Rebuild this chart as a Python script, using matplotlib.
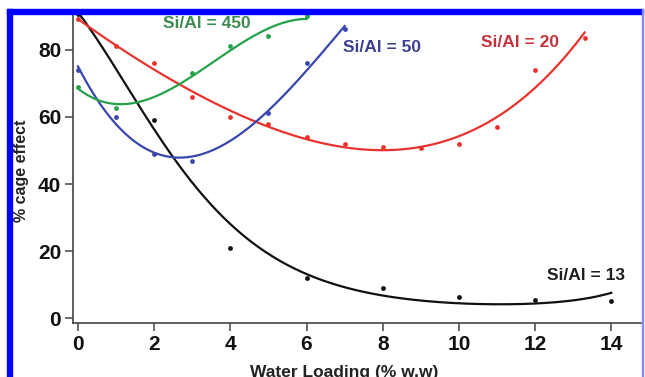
import numpy as np
import matplotlib
matplotlib.use("Agg")
import matplotlib.pyplot as plt
from matplotlib.patches import Rectangle

plt.rcParams['font.family'] = ['Liberation Sans', 'DejaVu Sans']
plt.rcParams['font.weight'] = 'bold'

# % cage effect vs water loading, one series per Si/Al ratio
x13 = [0, 2, 4, 6, 8, 10, 12, 14]
y13 = [90.5, 59, 21, 12, 9, 6.5, 5.5, 5.3]

x20 = [0, 1, 2, 3, 4, 5, 6, 7, 8, 9, 10, 11, 12, 13.3]
y20 = [89, 81, 76, 66, 60, 58, 54, 52, 51, 50.7, 52, 57, 74, 83.5]

x50 = [0, 1, 2, 3, 5, 6, 7]
y50 = [74, 60, 49, 47, 61, 76, 86]

x450 = [0, 1, 3, 4, 5, 6]
y450 = [69, 62.5, 73, 81, 84, 90]

labels = ["Si/Al = 13", "Si/Al = 20", "Si/Al = 50", "Si/Al = 450"]
xticks = [0, 2, 4, 6, 8, 10, 12, 14]
yticks = [0, 20, 40, 60, 80]


def trend(xs, ys, deg, log=False):
    # least-squares polynomial trend line, optionally fitted on log(y)
    xs = np.asarray(xs, float)
    ys = np.asarray(ys, float)
    xf = np.linspace(xs[0], xs[-1], 300)
    if log:
        c = np.polyfit(xs, np.log(ys), deg, w=ys)
        return xf, np.exp(np.polyval(c, xf))
    return xf, np.polyval(np.polyfit(xs, ys, deg), xf)


series = [
    (x13, y13, 3, True, "#111111", "#1e1e1e", (13.33, 12.9)),
    (x20, y20, 4, False, "#e8332e", "#c8323c", (11.6, 82.2)),
    (x50, y50, 3, False, "#3847ad", "#3c4090", (7.98, 80.6)),
    (x450, y450, 3, False, "#25a24a", "#3d8c52", (3.39, 87.9)),
]

fig = plt.figure(figsize=(6.45, 3.77), dpi=100)
ax = fig.add_axes([73 / 645, 1 - 323 / 377, 568 / 645, 310 / 377])

for (xs, ys, deg, lg, lc, tc, pos), lab in zip(series, labels):
    xf, yf = trend(xs, ys, deg, lg)
    ax.plot(xf, yf, color=lc, lw=1.6)
    ax.scatter(xs, ys, s=12, color=lc, zorder=3, clip_on=False, linewidths=0)
    ax.text(pos[0], pos[1], lab, color=tc, fontsize=12.5, fontweight='bold',
            ha='center', va='center')

ax.set_xlim(-0.13, 14.78)
ax.set_ylim(-1.35, 90.9)
ax.set_xticks(xticks)
ax.set_yticks(yticks)
for s in ['top', 'right']:
    ax.spines[s].set_visible(False)
for s in ['left', 'bottom']:
    ax.spines[s].set_color('#444444')
    ax.spines[s].set_linewidth(1.2)
ax.tick_params(direction='out', length=5.5, width=1.1, color='#444444',
               labelsize=15, pad=3)
for t in ax.get_xticklabels() + ax.get_yticklabels():
    t.set_fontweight('bold')
    t.set_color('#111111')

ax.set_ylabel("% cage effect", fontsize=11.5, fontweight='bold', color='#222222')
ax.yaxis.set_label_coords(-0.077, 0.49)
fig.text(344 / 645, 1 - 372 / 377, "Water Loading (% w.w)", fontsize=12.5,
         fontweight='bold', ha='center', va='center', color='#222222')

# blue frame around the panel
fig.patches.append(Rectangle((7 / 645, 0), 5 / 645, 1 - 9 / 377, transform=fig.transFigure,
                             color='#0000ff', zorder=10))
fig.patches.append(Rectangle((7 / 645, 1 - 14 / 377), 636 / 645, 5 / 377,
                             transform=fig.transFigure, color='#0000ff', zorder=10))
fig.patches.append(Rectangle((642 / 645, 0), 1.2 / 645, 1 - 9 / 377, transform=fig.transFigure,
                             color='#8888ff', zorder=10))

fig.savefig("out.png", dpi=100)
